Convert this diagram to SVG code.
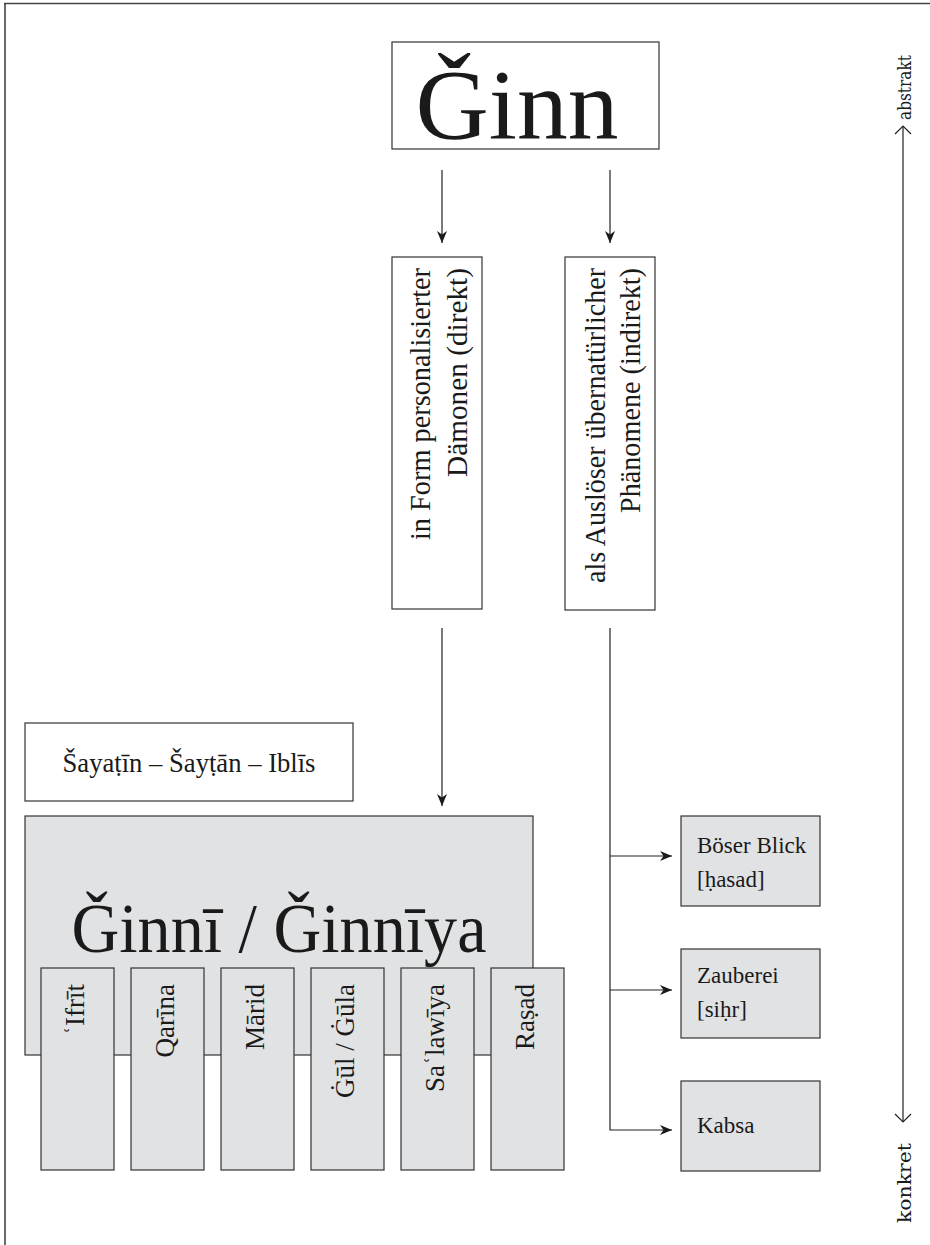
<svg xmlns="http://www.w3.org/2000/svg" width="930" height="1245" viewBox="0 0 930 1245">
<defs>
<style>
.t{font-family:"Liberation Serif","Times New Roman",serif;fill:#1a1a1a}
.ax{font-family:"DejaVu Serif","Liberation Serif",serif;fill:#1a1a1a;font-size:18px}
.box{fill:#ffffff;stroke:#333333;stroke-width:1.2}
.gbox{fill:#e1e2e4;stroke:#333333;stroke-width:1.2}
.con{fill:none;stroke:#222222;stroke-width:1.2}
.frame{fill:none;stroke:#444444;stroke-width:1.6}
</style>
<marker id="ah" viewBox="0 0 12 10" refX="12" refY="5" markerWidth="12" markerHeight="10" markerUnits="userSpaceOnUse" orient="auto">
<path d="M0,0 L12,5 L0,10 L3.5,5 z" fill="#1a1a1a"/>
</marker>
</defs>

<g id="frame">
<line class="frame" x1="4" y1="3.5" x2="930" y2="3.5"/>
<line class="frame" x1="5" y1="3" x2="5" y2="1245"/>
</g>

<g id="connectors">
<line class="con" x1="442" y1="170" x2="442" y2="243" marker-end="url(#ah)"/>
<line class="con" x1="610" y1="170" x2="610" y2="243" marker-end="url(#ah)"/>
<line class="con" x1="442" y1="628" x2="442" y2="806" marker-end="url(#ah)"/>
<polyline class="con" points="610,628 610,1130 672,1130" marker-end="url(#ah)"/>
<line class="con" x1="610" y1="856" x2="672" y2="856" marker-end="url(#ah)"/>
<line class="con" x1="610" y1="990" x2="672" y2="990" marker-end="url(#ah)"/>
</g>

<g id="axis">
<line class="con" x1="903" y1="126" x2="903" y2="1122"/>
<polyline class="con" points="895,134 903,126 911,134"/>
<polyline class="con" points="895,1114 903,1122 911,1114"/>
<text class="ax" transform="translate(911,120) rotate(-90)" textLength="65" lengthAdjust="spacingAndGlyphs">abstrakt</text>
<text class="ax" transform="translate(911,1223) rotate(-90)" textLength="80" lengthAdjust="spacingAndGlyphs">konkret</text>
</g>

<g id="ginn">
<rect class="box" x="392" y="42" width="267" height="107"/>
<text class="t" x="517" y="138" font-size="100" text-anchor="middle" textLength="203" lengthAdjust="spacingAndGlyphs">Ǧinn</text>
</g>

<g id="direkt">
<rect class="box" x="392" y="257" width="90" height="352"/>
<text class="t" font-size="29" text-anchor="end" transform="translate(430,268) rotate(-90)" textLength="272" lengthAdjust="spacingAndGlyphs">in Form personalisierter</text>
<text class="t" font-size="29" text-anchor="end" transform="translate(467,268) rotate(-90)" textLength="209" lengthAdjust="spacingAndGlyphs">Dämonen (direkt)</text>
</g>

<g id="indirekt">
<rect class="box" x="565" y="257" width="90" height="353"/>
<text class="t" font-size="29" text-anchor="end" transform="translate(605,268) rotate(-90)" textLength="315" lengthAdjust="spacingAndGlyphs">als Auslöser übernatürlicher</text>
<text class="t" font-size="29" text-anchor="end" transform="translate(640,268) rotate(-90)" textLength="245" lengthAdjust="spacingAndGlyphs">Phänomene (indirekt)</text>
</g>

<g id="shayatin">
<rect class="box" x="25" y="723" width="328" height="78"/>
<text class="t" x="189" y="772" font-size="27" text-anchor="middle" textLength="253" lengthAdjust="spacingAndGlyphs">Šayaṭīn – Šayṭān – Iblīs</text>
</g>

<g id="ginni">
<rect class="gbox" x="25" y="816" width="508" height="239"/>
<text class="t" x="279" y="952" font-size="70" text-anchor="middle" textLength="415" lengthAdjust="spacingAndGlyphs">Ǧinnī / Ǧinnīya</text>
</g>

<g id="ifrit">
<rect class="gbox" x="41" y="968" width="73" height="202"/>
<text class="t" font-size="27" text-anchor="end" transform="translate(84,984) rotate(-90)">ʿIfrīt</text>
</g>
<g id="qarina">
<rect class="gbox" x="131" y="968" width="73" height="202"/>
<text class="t" font-size="27" text-anchor="end" transform="translate(174,984) rotate(-90)">Qarīna</text>
</g>
<g id="marid">
<rect class="gbox" x="221" y="968" width="73" height="202"/>
<text class="t" font-size="27" text-anchor="end" transform="translate(264,984) rotate(-90)">Mārid</text>
</g>
<g id="gul">
<rect class="gbox" x="311" y="968" width="73" height="202"/>
<text class="t" font-size="27" text-anchor="end" transform="translate(354,984) rotate(-90)">Ġūl / Ġūla</text>
</g>
<g id="salawiya">
<rect class="gbox" x="401" y="968" width="73" height="202"/>
<text class="t" font-size="27" text-anchor="end" transform="translate(444,984) rotate(-90)">Saʿlawīya</text>
</g>
<g id="rasad">
<rect class="gbox" x="491" y="968" width="73" height="202"/>
<text class="t" font-size="27" text-anchor="end" transform="translate(534,984) rotate(-90)">Raṣad</text>
</g>

<g id="boeser-blick">
<rect class="gbox" x="681" y="816" width="139" height="90"/>
<text class="t" x="697" y="853" font-size="23">Böser Blick</text>
<text class="t" x="697" y="887" font-size="23">[ḥasad]</text>
</g>
<g id="zauberei">
<rect class="gbox" x="681" y="949" width="139" height="89"/>
<text class="t" x="697" y="983" font-size="23">Zauberei</text>
<text class="t" x="697" y="1017" font-size="23">[siḥr]</text>
</g>
<g id="kabsa">
<rect class="gbox" x="681" y="1081" width="139" height="90"/>
<text class="t" x="697" y="1133" font-size="23">Kabsa</text>
</g>
</svg>
